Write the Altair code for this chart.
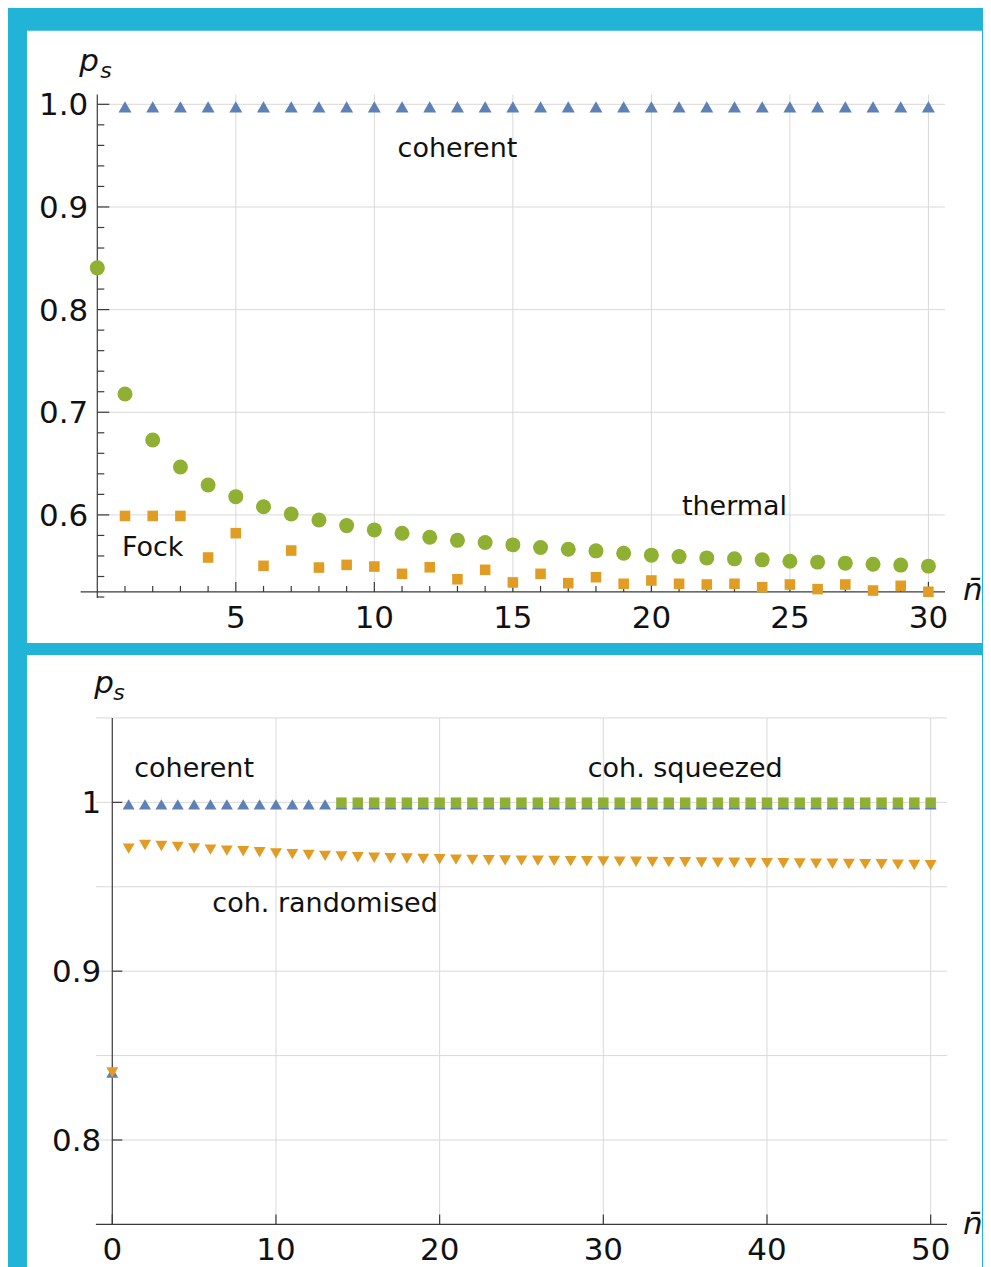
import altair as alt
import pandas as pd

FONT = "DejaVu Sans"
CYAN = "#22B4D7"
BLUE = "#5E81B5"
ORANGE = "#E19C24"
GREEN = "#8FB032"
GRID = "#D9D9D9"
AXIS = "#3A3A3A"
TEXT = "#111111"

# ---------------- top panel data (n̄ = 0..30) ----------------
TOP_COH_N = [1, 2, 3, 4, 5, 6, 7, 8, 9, 10, 11, 12, 13, 14, 15,
             16, 17, 18, 19, 20, 21, 22, 23, 24, 25, 26, 27, 28, 29, 30]
TOP_COH_P = [0.9975, 0.9975, 0.9975, 0.9975, 0.9975, 0.9975, 0.9975, 0.9975, 0.9975, 0.9975,
             0.9975, 0.9975, 0.9975, 0.9975, 0.9975, 0.9975, 0.9975, 0.9975, 0.9975, 0.9975,
             0.9975, 0.9975, 0.9975, 0.9975, 0.9975, 0.9975, 0.9975, 0.9975, 0.9975, 0.9975]
TOP_TH_N = [0, 1, 2, 3, 4, 5, 6, 7, 8, 9, 10, 11, 12, 13, 14, 15,
            16, 17, 18, 19, 20, 21, 22, 23, 24, 25, 26, 27, 28, 29, 30]
TOP_TH_P = [0.8407, 0.7178, 0.6730, 0.6467, 0.6292, 0.6178, 0.6080, 0.6009, 0.5951, 0.5896,
            0.5854, 0.5822, 0.5783, 0.5752, 0.5731, 0.5708, 0.5682, 0.5666, 0.5650, 0.5627,
            0.5608, 0.5594, 0.5581, 0.5572, 0.5562, 0.5549, 0.5540, 0.5530, 0.5520, 0.5511,
            0.5501]
TOP_FOCK_N = [1, 2, 3, 4, 5, 6, 7, 8, 9, 10, 11, 12, 13, 14, 15,
              16, 17, 18, 19, 20, 21, 22, 23, 24, 25, 26, 27, 28, 29, 30]
TOP_FOCK_P = [0.5990, 0.5990, 0.5990, 0.5585, 0.5822, 0.5504, 0.5653, 0.5487, 0.5513, 0.5497,
              0.5426, 0.5490, 0.5373, 0.5465, 0.5342, 0.5426, 0.5335, 0.5393, 0.5329, 0.5361,
              0.5329, 0.5322, 0.5329, 0.5296, 0.5322, 0.5277, 0.5322, 0.5263, 0.5309, 0.5251]

# ---------------- bottom panel data (n̄ = 0..50) ----------------
BOT_COH_N = [0, 1, 2, 3, 4, 5, 6, 7, 8, 9, 10, 11, 12, 13, 14, 15, 16, 17, 18, 19, 20,
             21, 22, 23, 24, 25, 26, 27, 28, 29, 30, 31, 32, 33, 34, 35, 36, 37, 38, 39, 40,
             41, 42, 43, 44, 45, 46, 47, 48, 49, 50]
BOT_COH_P = [0.840, 0.9988, 0.9988, 0.9988, 0.9988, 0.9988, 0.9988, 0.9988, 0.9988, 0.9988,
             0.9988, 0.9988, 0.9988, 0.9988, 0.9988, 0.9988, 0.9988, 0.9988, 0.9988, 0.9988,
             0.9988, 0.9988, 0.9988, 0.9988, 0.9988, 0.9988, 0.9988, 0.9988, 0.9988, 0.9988,
             0.9988, 0.9988, 0.9988, 0.9988, 0.9988, 0.9988, 0.9988, 0.9988, 0.9988, 0.9988,
             0.9988, 0.9988, 0.9988, 0.9988, 0.9988, 0.9988, 0.9988, 0.9988, 0.9988, 0.9988,
             0.9988]
BOT_SQZ_N = [14, 15, 16, 17, 18, 19, 20, 21, 22, 23, 24, 25, 26, 27, 28, 29, 30, 31, 32,
             33, 34, 35, 36, 37, 38, 39, 40, 41, 42, 43, 44, 45, 46, 47, 48, 49, 50]
BOT_SQZ_P = [0.9998, 0.9998, 0.9998, 0.9998, 0.9998, 0.9998, 0.9998, 0.9998, 0.9998, 0.9998,
             0.9998, 0.9998, 0.9998, 0.9998, 0.9998, 0.9998, 0.9998, 0.9998, 0.9998, 0.9998,
             0.9998, 0.9998, 0.9998, 0.9998, 0.9998, 0.9998, 0.9998, 0.9998, 0.9998, 0.9998,
             0.9998, 0.9998, 0.9998, 0.9998, 0.9998, 0.9998, 0.9998]
BOT_RND_N = [0, 1, 2, 3, 4, 5, 6, 7, 8, 9, 10, 11, 12, 13, 14, 15, 16, 17, 18, 19, 20,
             21, 22, 23, 24, 25, 26, 27, 28, 29, 30, 31, 32, 33, 34, 35, 36, 37, 38, 39, 40,
             41, 42, 43, 44, 45, 46, 47, 48, 49, 50]
BOT_RND_P = [0.840, 0.9726, 0.9747, 0.9741, 0.9736, 0.9727, 0.9720, 0.9714, 0.9710, 0.9704,
             0.9698, 0.9693, 0.9688, 0.9683, 0.9679, 0.9675, 0.9672, 0.9669, 0.9667, 0.9665,
             0.9663, 0.9661, 0.9659, 0.9657, 0.9656, 0.9655, 0.9654, 0.9653, 0.9652, 0.9651,
             0.9650, 0.9649, 0.9648, 0.9647, 0.9646, 0.9645, 0.9644, 0.9643, 0.9642, 0.9641,
             0.9640, 0.9639, 0.9638, 0.9637, 0.9636, 0.9635, 0.9634, 0.9633, 0.9631, 0.9629,
             0.9627]

# ---------------- ticks, labels, annotations ----------------
TOP_X_MAJOR = [5, 10, 15, 20, 25, 30]
TOP_X_LABELS = ["5", "10", "15", "20", "25", "30"]
TOP_X_MINOR = [1, 2, 3, 4, 6, 7, 8, 9, 11, 12, 13, 14, 16, 17, 18, 19,
               21, 22, 23, 24, 26, 27, 28, 29]
TOP_Y_MAJOR = [0.6, 0.7, 0.8, 0.9, 1.0]
TOP_Y_LABELS = ["0.6", "0.7", "0.8", "0.9", "1.0"]
TOP_Y_MINOR = [0.52, 0.54, 0.56, 0.58, 0.62, 0.64, 0.66, 0.68, 0.72, 0.74, 0.76, 0.78,
               0.82, 0.84, 0.86, 0.88, 0.92, 0.94, 0.96, 0.98]
TOP_NOTES = ["coherent", "thermal", "Fock"]
TOP_NOTE_X = [13, 23, 2]
TOP_NOTE_Y = [0.9484, 0.600, 0.5601]

BOT_X_MAJOR = [0, 10, 20, 30, 40, 50]
BOT_X_LABELS = ["0", "10", "20", "30", "40", "50"]
BOT_X_GRID = [10, 20, 30, 40, 50]
BOT_Y_MAJOR = [0.8, 0.9, 1.0]
BOT_Y_LABELS = ["0.8", "0.9", "1"]
BOT_Y_GRID = [0.8, 0.85, 0.9, 0.95, 1.0, 1.05]
BOT_NOTES = ["coherent", "coh. squeezed", "coh. randomised"]
BOT_NOTE_X = [5, 35, 13]
BOT_NOTE_Y = [1.015, 1.015, 0.9349]


def build_panel(p):
    xs = alt.Scale(domain=p["xdom"], nice=False, zero=False)
    ys = alt.Scale(domain=p["ydom"], nice=False, zero=False)

    def X(f):
        return alt.X(f, type="quantitative", scale=xs, axis=None)

    def Y(f):
        return alt.Y(f, type="quantitative", scale=ys, axis=None)

    x_hi = p["xdom"][1]
    y_hi = p["ydom"][1]
    x_start = p["xaxis_from"]
    ax_y = p["xaxis_at"]
    layers = []

    # white panel behind the plot
    bx0, bx1, by0, by1 = p["panel"]
    layers.append(
        alt.Chart(pd.DataFrame({"d": [0]})).mark_rect(fill="white").encode(
            x=alt.value(bx0), x2=alt.value(p["width"] + bx1),
            y=alt.value(by0), y2=alt.value(p["height"] + by1))
    )

    # grid lines
    gx = p["grid_x"]
    layers.append(
        alt.Chart(pd.DataFrame({"x": gx, "y0": [ax_y] * len(gx), "y1": [y_hi] * len(gx)}))
        .mark_rule(color=GRID, strokeWidth=1)
        .encode(x=X("x"), y=Y("y0"), y2=alt.Y2("y1"))
    )
    gy = p["grid_y"]
    layers.append(
        alt.Chart(pd.DataFrame({"y": gy, "x0": [p["hgrid_from"]] * len(gy), "x1": [x_hi] * len(gy)}))
        .mark_rule(color=GRID, strokeWidth=1)
        .encode(y=Y("y"), x=X("x0"), x2=alt.X2("x1"))
    )

    # axis lines
    layers.append(
        alt.Chart(pd.DataFrame({"x": [0], "y0": [p["yaxis_from"]], "y1": [y_hi]}))
        .mark_rule(color=AXIS, strokeWidth=1.2)
        .encode(x=X("x"), y=Y("y0"), y2=alt.Y2("y1"))
    )
    layers.append(
        alt.Chart(pd.DataFrame({"y": [ax_y], "x0": [x_start], "x1": [x_hi]}))
        .mark_rule(color=AXIS, strokeWidth=1.2)
        .encode(y=Y("y"), x=X("x0"), x2=alt.X2("x1"))
    )

    # y ticks (pointing right)
    for vals, ln in [(p["y_major"], p["y_major_len"]), (p["y_minor"], p["y_minor_len"])]:
        if vals:
            layers.append(
                alt.Chart(pd.DataFrame({"x": [0] * len(vals), "y": vals}))
                .mark_rule(color=AXIS, strokeWidth=1.2, x2Offset=ln)
                .encode(x=X("x"), x2=alt.X2("x"), y=Y("y"))
            )
    # x ticks (pointing up)
    for vals, ln in [(p["x_major"], p["x_major_len"]), (p["x_minor"], p["x_minor_len"])]:
        if vals:
            layers.append(
                alt.Chart(pd.DataFrame({"x": vals, "y": [ax_y] * len(vals)}))
                .mark_rule(color=AXIS, strokeWidth=1.2, y2Offset=-ln)
                .encode(x=X("x"), y=Y("y"), y2=alt.Y2("y"))
            )

    # tick labels
    layers.append(
        alt.Chart(pd.DataFrame({"x": [0] * len(p["y_major"]), "y": p["y_major"], "t": p["y_labels"]}))
        .mark_text(align="right", baseline="middle", dx=p["ylab_dx"], dy=2,
                   font=FONT, fontSize=p["tick_fs"], color=TEXT)
        .encode(x=X("x"), y=Y("y"), text="t:N")
    )
    layers.append(
        alt.Chart(pd.DataFrame({"x": p["x_major"], "y": [ax_y] * len(p["x_major"]), "t": p["x_labels"]}))
        .mark_text(align="center", baseline="middle", dy=p["xlab_dy"],
                   font=FONT, fontSize=p["tick_fs"], color=TEXT)
        .encode(x=X("x"), y=Y("y"), text="t:N")
    )

    # data series
    for s in p["series"]:
        layers.append(
            alt.Chart(pd.DataFrame({"x": s["n"], "y": s["p"]}))
            .mark_point(shape=s["shape"], filled=True, size=s["size"], color=s["color"],
                        opacity=1, strokeWidth=0)
            .encode(x=X("x"), y=Y("y"))
        )

    # annotations
    layers.append(
        alt.Chart(pd.DataFrame({"x": p["note_x"], "y": p["note_y"], "t": p["notes"]}))
        .mark_text(align="center", baseline="alphabetic", font=FONT, fontSize=27, color=TEXT)
        .encode(x=X("x"), y=Y("y"), text="t:N")
    )

    # axis titles: p_s and n-bar
    layers.append(
        alt.Chart(pd.DataFrame({"x": [0], "y": [y_hi], "t": ["p"]}))
        .mark_text(align="left", baseline="alphabetic", dx=-18, dy=p["p_dy"], font=FONT,
                   fontSize=31, fontStyle="italic", color=TEXT)
        .encode(x=X("x"), y=Y("y"), text="t:N")
    )
    layers.append(
        alt.Chart(pd.DataFrame({"x": [0], "y": [y_hi], "t": ["s"]}))
        .mark_text(align="left", baseline="alphabetic", dx=p["s_dx"], dy=p["s_dy"], font=FONT,
                   fontSize=22, fontStyle="italic", color=TEXT)
        .encode(x=X("x"), y=Y("y"), text="t:N")
    )
    layers.append(
        alt.Chart(pd.DataFrame({"x": [x_hi], "y": [ax_y], "t": ["n\u0304"]}))
        .mark_text(align="left", baseline="alphabetic", dx=p["n_dx"], dy=p["n_dy"], font=FONT,
                   fontSize=31, fontStyle="italic", color=TEXT)
        .encode(x=X("x"), y=Y("y"), text="t:N")
    )

    return alt.layer(*layers).properties(width=p["width"], height=p["height"])


top = build_panel(dict(
    xdom=[-0.05, 30.6], ydom=[0.519, 1.0095], width=850, height=504, xaxis_at=0.525,
    xaxis_from=-0.6, panel=(-69, 37, -64, 45),
    grid_x=TOP_X_MAJOR, grid_y=TOP_Y_MAJOR, hgrid_from=0, yaxis_from=0.519,
    y_major=TOP_Y_MAJOR, y_major_len=12, y_minor=TOP_Y_MINOR, y_minor_len=7,
    x_major=TOP_X_MAJOR, x_major_len=10, x_minor=TOP_X_MINOR, x_minor_len=6,
    y_labels=TOP_Y_LABELS, x_labels=TOP_X_LABELS, ylab_dx=-9, xlab_dy=27, tick_fs=31,
    series=[
        dict(n=TOP_COH_N, p=TOP_COH_P, shape="triangle-up", size=169, color=BLUE),
        dict(n=TOP_TH_N, p=TOP_TH_P, shape="circle", size=225, color=GREEN),
        dict(n=TOP_FOCK_N, p=TOP_FOCK_P, shape="square", size=112, color=ORANGE),
    ],
    notes=TOP_NOTES, note_x=TOP_NOTE_X, note_y=TOP_NOTE_Y,
    p_dy=-24, s_dx=3, s_dy=-17, n_dx=18, n_dy=8,
))

bottom = build_panel(dict(
    xdom=[-1, 51], ydom=[0.75, 1.05], width=852, height=507, xaxis_at=0.75,
    xaxis_from=-1, panel=(-69, 35, -63, 58),
    grid_x=BOT_X_GRID, grid_y=BOT_Y_GRID, hgrid_from=-1, yaxis_from=0.75,
    y_major=BOT_Y_MAJOR, y_major_len=10, y_minor=[], y_minor_len=0,
    x_major=BOT_X_MAJOR, x_major_len=10, x_minor=[], x_minor_len=0,
    y_labels=BOT_Y_LABELS, x_labels=BOT_X_LABELS, ylab_dx=-11, xlab_dy=27, tick_fs=31,
    series=[
        dict(n=BOT_COH_N, p=BOT_COH_P, shape="triangle-up", size=144, color=BLUE),
        dict(n=BOT_SQZ_N, p=BOT_SQZ_P, shape="square", size=110, color=GREEN),
        dict(n=BOT_RND_N, p=BOT_RND_P, shape="triangle-down", size=144, color=ORANGE),
    ],
    notes=BOT_NOTES, note_x=BOT_NOTE_X, note_y=BOT_NOTE_Y,
    p_dy=-25, s_dx=1, s_dy=-18, n_dx=16, n_dy=10,
))

chart = (
    alt.vconcat(top, bottom, spacing=12)
    .properties(background=CYAN, padding={"left": 19, "top": 22, "right": 0, "bottom": 0})
    .configure_view(strokeWidth=0)
)

chart.save("out.html", embed_options={"renderer": "svg", "actions": False})
